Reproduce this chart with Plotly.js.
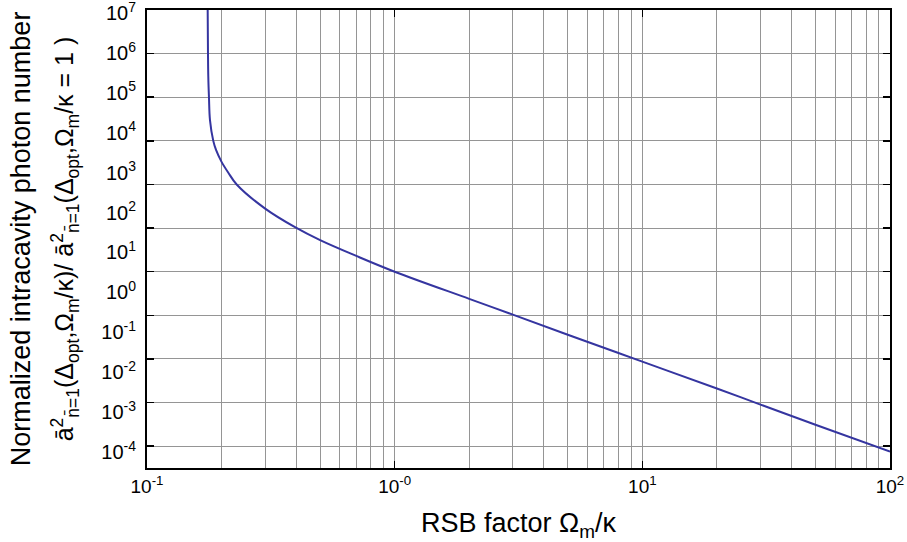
<!DOCTYPE html>
<html>
<head>
<meta charset="utf-8">
<script src="https://cdn.plot.ly/plotly-3.0.1.min.js"></script>
<style>html,body{margin:0;padding:0;background:#fff;}#chart{width:907px;height:542px;}</style>
</head>
<body>
<div id="chart"></div>
<script>
// RSB factor Omega_m / kappa
const rsbFactor = [0.1758, 0.1763, 0.1768, 0.1779, 0.1796, 0.1852, 0.190, 0.200, 0.213, 0.2302, 0.300, 0.396, 0.500, 0.700, 1.0, 2.0, 3.0, 5.0, 10.0, 20.0, 30.0, 50.0, 100.0];
// Normalized intracavity photon number
const photonRatio = [1e6, 1e5, 3.0e4, 1e4, 3000, 1e3, 620, 330, 186, 100, 28, 10.5, 5.3, 2.3, 1.0, 0.239, 0.104, 0.036, 0.0087, 0.0021, 9.0e-4, 3.1e-4, 7.5e-5];

const xMajorVals = [0.1, 1, 10, 100];
const xMajorText = ['10<sup>-1</sup>', '10<sup>-0</sup>', '10<sup>1</sup>', '10<sup>2</sup>'];
const xMinorVals = [0.2,0.3,0.4,0.5,0.6,0.7,0.8,0.9, 2,3,4,5,6,7,8,9, 20,30,40,50,60,70,80,90];
const yGridVals = [1e-4,1e-3,1e-2,1e-1,1,1e1,1e2,1e3,1e4,1e5,1e6];
const yLabelVals = [1e-4,1e-3,1e-2,1e-1,1,1e1,1e2,1e3,1e4,1e5,1e6,1e7];
const yLabelText = ['10<sup>-4</sup>','10<sup>-3</sup>','10<sup>-2</sup>','10<sup>-1</sup>','10<sup>0</sup>','10<sup>1</sup>','10<sup>2</sup>','10<sup>3</sup>','10<sup>4</sup>','10<sup>5</sup>','10<sup>6</sup>','10<sup>7</sup>'];

const xTitle = 'RSB factor Ω<sub>m</sub>/κ';
const yTitle1 = 'Normalized intracavity photon number';
const yTitle2 = 'ā<sup>2</sup><sub>n̄=1</sub>(Δ<sub>opt</sub>,Ω<sub>m</sub>/κ)/ ā<sup>2</sup><sub>n̄=1</sub>(Δ<sub>opt</sub>,Ω<sub>m</sub>/κ = 1 )';

const FONT = 'Arial, "Liberation Sans", sans-serif';
const gridC = '#959595';

const traces = [
  {x: rsbFactor, y: photonRatio, type: 'scatter', mode: 'lines',
   line: {color: '#3535a0', width: 2, shape: 'spline', smoothing: 1},
   hoverinfo: 'x+y', showlegend: false},
  {x: [], y: [], type: 'scatter', mode: 'lines', yaxis: 'y2', showlegend: false, hoverinfo: 'skip'}
];

const layout = {
  width: 907, height: 542,
  margin: {l: 147, r: 17, t: 10, b: 74},
  paper_bgcolor: '#fff', plot_bgcolor: '#fff',
  font: {family: FONT, color: '#000', size: 18},
  showlegend: false,
  xaxis: {
    type: 'log', range: [-1, 2], autorange: false,
    tickmode: 'array', tickvals: xMajorVals, ticktext: xMajorText,
    ticks: 'inside', ticklen: 7, tickwidth: 1.5, tickcolor: '#000',
    showline: true, linecolor: '#000', linewidth: 2, mirror: 'ticks',
    showgrid: true, gridcolor: gridC, gridwidth: 1,
    zeroline: false,
    tickfont: {size: 19, family: FONT},
    ticklabeloverflow: 'allow',
    minor: {tickmode: 'array', tickvals: xMinorVals, showgrid: true, gridcolor: gridC, gridwidth: 1, ticks: ''},
    title: {text: xTitle, font: {size: 27, family: FONT}, standoff: 18}
  },
  yaxis: {
    type: 'log', range: [-4.5, 6], autorange: false,
    tickmode: 'array', tickvals: yGridVals,
    showticklabels: false,
    ticks: 'inside', ticklen: 7, tickwidth: 1.5, tickcolor: '#000',
    showline: true, linecolor: '#000', linewidth: 2, mirror: 'ticks',
    showgrid: true, gridcolor: gridC, gridwidth: 1,
    zeroline: false,
    title: {text: yTitle2, font: {size: 25, family: FONT}, standoff: 64}
  },
  yaxis2: {
    type: 'log', range: [-4.40, 7.075], autorange: false, overlaying: 'y', side: 'left',
    tickmode: 'array', tickvals: yLabelVals, ticktext: yLabelText,
    ticks: '', showgrid: false, showline: false, zeroline: false,
    ticklabelstandoff: 10, ticklabeloverflow: 'allow',
    tickfont: {size: 20, family: FONT},
    title: {text: yTitle1, font: {size: 27, family: FONT}, standoff: 62}
  }
};

Plotly.newPlot('chart', traces, layout, {displayModeBar: false, staticPlot: true});
</script>
</body>
</html>
